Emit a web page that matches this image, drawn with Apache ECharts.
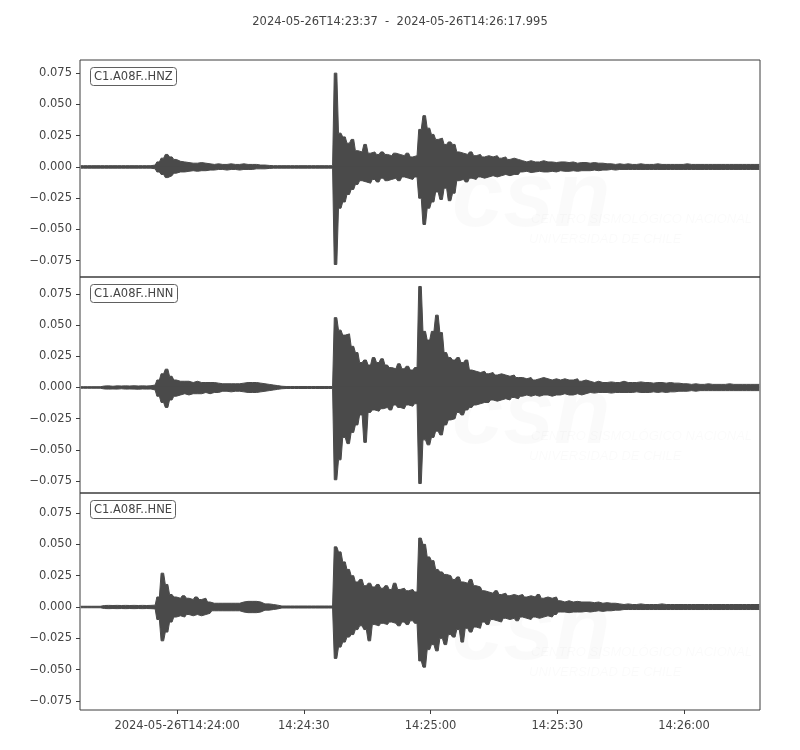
<!DOCTYPE html>
<html><head><meta charset="utf-8">
<script src="https://cdn.jsdelivr.net/npm/echarts@6/dist/echarts.min.js"></script>
<style>html,body{margin:0;padding:0;background:#fff}#c{width:800px;height:750px}</style>
</head><body><div id="c"></div>
<script>
// ---- data (peak max / min per 1-second bin, in units of 0.001) ----
const startTime = '2024-05-26T14:23:37';
const endTime = '2024-05-26T14:26:17.995';
const durationSec = 160.995;
const channels = ['C1.A08F..HNZ', 'C1.A08F..HNN', 'C1.A08F..HNE'];
const xTickSeconds = [23, 53, 83, 113, 143];
const xTickLabels = ['2024-05-26T14:24:00', '14:24:30', '14:25:00', '14:25:30', '14:26:00'];
const yTicks = [-0.075, -0.05, -0.025, 0, 0.025, 0.05, 0.075];
const yMins = [-0.088, -0.0846, -0.0822];
const yMaxs = [0.0855, 0.0886, 0.091];

const hnzMax = [
1,1,1,1,1,1,1,1,1,1,
1,1,1,1,1,1,1,1.5,4,7,
10,8,6,4.5,4,3.5,3,3,3.5,3,
2.5,2,2.5,2,2,2.5,2,2,2.5,2,
2,2,1.5,1.5,1.2,1,1,1,1,1,
1,1,1,1,1,1,1,1,1,1,
75,27,24,19,22,13,12,18,11,12,
10,12,10,9,11,10,9,11,8,9,
30,41,31,26,22,23,18,20,18,12,
11,10,12,9,10,8,9,8,9,7,
8,6,7,6,5,4,5,4,4,5,
4,4,3.5,4,4,3.5,4,3,3.5,3.5,
3,3.5,3,3,2.5,2.5,2,2.5,2,2.5,
2,2,2.5,2,2,2,2.5,2,2,2,
2,2,2,2.5,2,2,2,2,2,2,
2,2,2,2,2,2,2,2,2,2,2];
const hnzMin = [
-1,-1,-1,-1,-1,-1,-1,-1,-1,-1,
-1,-1,-1,-1,-1,-1,-1,-1.5,-4,-6,
-8.5,-7,-5,-4,-4,-3.5,-3,-3.5,-3,-3,
-2.5,-2.5,-2,-2,-2.5,-2,-2,-2.5,-2,-2,
-2,-1.5,-1.5,-1.5,-1.2,-1,-1,-1,-1,-1,
-1,-1,-1,-1,-1,-1,-1,-1,-1,-1,
-78,-33,-28,-22,-18,-14,-11,-12,-13,-10,
-12,-9,-11,-10,-9,-11,-8,-9,-10,-8,
-25,-46,-33,-28,-20,-26,-17,-27,-21,-11,
-10,-12,-9,-10,-8,-9,-8,-7,-8,-7,
-6,-7,-6,-6,-4,-3.5,-4.5,-4,-3.5,-4,
-4,-3.5,-4,-3,-3.5,-3.5,-3,-3.5,-3,-3,
-3,-2.5,-3,-2.5,-2.5,-2,-2.5,-2,-2,-2,
-2,-2,-2,-2,-2,-2,-2,-2,-2,-2,
-2,-2,-2,-2,-2,-2,-2,-2,-2,-2,
-2,-2,-2,-2,-2,-2,-2,-2,-2,-2,-2];

const hnnMax = [
0.6,0.6,0.6,0.6,0.6,1.2,1.3,1,1.3,1.2,
1.3,1.2,1.4,1.2,1.3,1.2,1.4,2,6,11,
14.7,9,6,5,5,5,4,5,4,4,
4,4,3.5,3,3,3,3,3,3.5,4,
4,4,3.5,3,2.5,2,1.5,1,0.8,0.8,
0.8,0.8,0.8,0.8,0.8,0.8,0.8,0.8,0.8,0.8,
56,46,42,43,33,28,20,22,18,24,
20,23,18,16,15,19,15,17,14,16,
81,45,38,45,58,44,28,24,22,24,
20,22,14,13,12,13,11,12,10,11,
10,9,10,8,8,7,8,6,7,8,
7,6,7,6,7,6,6,7,5,6,
5,4,5,4,4,4.5,4,4,5,4,
4,4,4.5,4,4,3.5,4,4,3.5,4,
3.5,3.5,3,3,2.5,3,2.5,2.5,3,2.5,
2.5,2.5,2.5,3,2.5,2.5,2.5,2.5,2.5,2.5,2.5];
const hnnMin = [
-0.6,-0.6,-0.6,-0.6,-0.6,-1.2,-1.3,-1.2,-1.3,-1,
-1.3,-1.2,-1.3,-1.4,-1.2,-1.3,-1.2,-2,-7,-12,
-16,-10,-7,-6,-5,-6,-5,-5,-5,-4,
-5,-4,-4,-3,-3,-3.5,-3,-3,-3.5,-4,
-4,-4,-3.5,-3,-2.5,-2,-1.5,-1,-0.8,-0.8,
-0.8,-0.8,-0.8,-0.8,-0.8,-0.8,-0.8,-0.8,-0.8,-0.8,
-74,-58,-40,-45,-36,-30,-22,-44,-20,-18,
-19,-17,-16,-18,-14,-16,-17,-14,-15,-13,
-77,-42,-46,-40,-35,-38,-30,-26,-25,-20,
-22,-18,-16,-14,-13,-12,-12,-10,-11,-10,
-9,-10,-8,-9,-7,-6,-7,-6,-7,-6,
-6,-7,-6,-6,-5,-6,-6,-5,-6,-5,
-4,-4.5,-4,-4,-4,-4.5,-4,-4,-4,-4,
-4,-3.5,-4,-4,-4,-3.5,-4,-3.5,-4,-3.5,
-3.5,-3,-3,-3,-2.5,-3,-2.5,-2.5,-2.5,-2.5,
-2.5,-2.5,-2.5,-2.5,-2.5,-2.5,-2.5,-2.5,-2.5,-2.5,-2.5];

const hneMax = [
0.6,0.6,0.6,0.6,0.6,1.2,1.3,1.2,1.3,1.2,
1.3,1.2,1.3,1.2,1.3,1.2,1.3,1.5,8,27,
18,10,8,7,9,7,6,8,6,7,
4,3,3,3,3,3,3,3,4,4.5,
4.5,4.5,4,2.5,2.5,2,1.5,0.8,0.8,0.8,
0.8,0.8,0.8,0.8,0.8,0.8,0.8,0.8,0.8,0.8,
48,44,36,30,25,20,22,17,19,16,
18,15,17,14,19,14,15,13,14,12,
55,50,40,37,30,28,26,25,22,24,
20,19,22,17,16,13,12,11,13,10,
11,9,10,9,10,8,9,8,10,7,
8,7,8,5,4,5,4,4.5,4,4,
4,3.5,4,3,3.5,3,3,2.5,2,2.5,
2,2,2.5,2,2,2,2,2.5,2,2,
2,2,2,2,2,2,2,2,2,2,
2,2,2,2,2,2,2,2,2,2,2];
const hneMin = [
-0.6,-0.6,-0.6,-0.6,-0.6,-1.2,-1.3,-1.2,-1.3,-1.2,
-1.3,-1.2,-1.3,-1.2,-1.3,-1.2,-1.3,-1.5,-10,-27,
-20,-12,-8,-7,-8,-6,-7,-6,-7,-6,
-5,-3,-3,-3,-3,-3,-3,-3,-4,-4.5,
-4.5,-4.5,-4,-2.5,-2.5,-2,-1.5,-0.8,-0.8,-0.8,
-0.8,-0.8,-0.8,-0.8,-0.8,-0.8,-0.8,-0.8,-0.8,-0.8,
-41,-32,-28,-24,-22,-18,-15,-18,-27,-14,
-15,-13,-14,-12,-13,-15,-12,-14,-11,-13,
-43,-48,-34,-30,-35,-25,-30,-22,-24,-18,
-28,-17,-20,-16,-17,-12,-14,-10,-11,-12,
-9,-10,-9,-11,-8,-9,-10,-8,-9,-8,
-7,-8,-6,-4,-4,-4.5,-4,-4,-4,-3.5,
-4,-3.5,-3,-3.5,-3,-3,-2.5,-2.5,-2,-2,
-2,-2,-2,-2,-2,-2,-2,-2,-2,-2,
-2,-2,-2,-2,-2,-2,-2,-2,-2,-2,
-2,-2,-2,-2,-2,-2,-2,-2,-2,-2,-2];

// ---- build: min/max decimated trace; each 1-s bin spans its max and min peaks ----
const maxArrays = [hnzMax, hnnMax, hneMax];
const minArrays = [hnzMin, hnnMin, hneMin];
function envelope(arr) {
  const pts = [];
  for (let i = 0; i < arr.length; i++) {
    pts.push([i + 0.2, arr[i] / 1000]);
    pts.push([i + 0.8, arr[i] / 1000]);
  }
  return pts;
}
const FONT = "'DejaVu Sans', sans-serif";
const TXT = '#444';
const FRAME = '#3c3c3c';
const WAVE = '#4a4a4a';
const panelTops = [60, 277, 493];
const panelHeights = [217, 216, 217];

const grids = [], xAxes = [], yAxes = [], series = [], titles = [], graphics = [];
titles.push({ text: startTime + '  -  ' + endTime, left: 'center', top: 11,
  textStyle: { fontFamily: FONT, fontSize: 11.5, fontWeight: 'normal', color: TXT } });

for (let p = 0; p < 3; p++) {
  grids.push({ left: 80, width: 680, top: panelTops[p], height: panelHeights[p], show: true,
    borderColor: FRAME, borderWidth: 1, backgroundColor: 'transparent', containLabel: false });
  const isBottom = p === 2;
  xAxes.push({ type: 'value', gridIndex: p, min: 0, max: durationSec, position: 'bottom',
    axisLine: { show: false, onZero: false }, splitLine: { show: false },
    axisTick: { show: isBottom, length: 4, lineStyle: { color: FRAME }, customValues: xTickSeconds },
    axisLabel: { show: isBottom, customValues: xTickSeconds, margin: 10,
      fontFamily: FONT, fontSize: 11.5, color: TXT,
      formatter: v => xTickLabels[xTickSeconds.indexOf(Math.round(v))] || '' } });
  yAxes.push({ type: 'value', gridIndex: p, min: yMins[p], max: yMaxs[p], position: 'left',
    axisLine: { show: false, onZero: false }, splitLine: { show: false },
    axisTick: { show: true, length: 4, lineStyle: { color: FRAME }, customValues: yTicks },
    axisLabel: { show: true, customValues: yTicks, margin: 8, fontFamily: FONT, fontSize: 11.5, color: TXT,
      formatter: v => (v < -1e-9 ? '\u2212' : '') + Math.abs(v).toFixed(3) } });
  [maxArrays[p], minArrays[p]].forEach((arr, k) => {
    series.push({ type: 'line', xAxisIndex: p, yAxisIndex: p, name: channels[p] + (k ? ' min' : ' max'),
      data: envelope(arr), showSymbol: false, symbol: 'none',
      animation: false, z: 3,
      lineStyle: { color: WAVE, width: 1 },
      // the lower half overlaps the upper one slightly so no seam shows at zero
      areaStyle: { color: WAVE, opacity: 1, origin: k ? 0.0005 : 0 } });
  });
  titles.push({ text: channels[p], left: 90, top: panelTops[p] + 7,
    padding: [4, 4, 3, 4], borderColor: '#606060', borderWidth: 1, borderRadius: 3,
    backgroundColor: '#fff',
    textStyle: { fontFamily: FONT, fontSize: 11.5, fontWeight: 'normal', color: TXT } });
  // faint CSN watermark
  const wm = 'rgba(0,0,0,0.018)';
  graphics.push({ type: 'text', left: 452, top: panelTops[p] + 95, z: 0, silent: true,
    style: { text: 'csn', fill: wm, font: "italic bold 92px 'Liberation Sans', sans-serif" } });
  graphics.push({ type: 'text', left: 531, top: panelTops[p] + 153, z: 0, silent: true,
    style: { text: 'CENTRO SISMOLÓGICO NACIONAL', fill: wm, font: "italic 13px 'Liberation Sans', sans-serif" } });
  graphics.push({ type: 'text', left: 529, top: panelTops[p] + 173, z: 0, silent: true,
    style: { text: 'UNIVERSIDAD DE CHILE', fill: wm, font: "italic 13px 'Liberation Sans', sans-serif" } });
}

const chart = echarts.init(document.getElementById('c'), null, { renderer: 'canvas' });
chart.setOption({
  animation: false,
  backgroundColor: '#fff',
  title: titles,
  grid: grids,
  xAxis: xAxes,
  yAxis: yAxes,
  series: series,
  graphic: graphics
});
</script></body></html>
